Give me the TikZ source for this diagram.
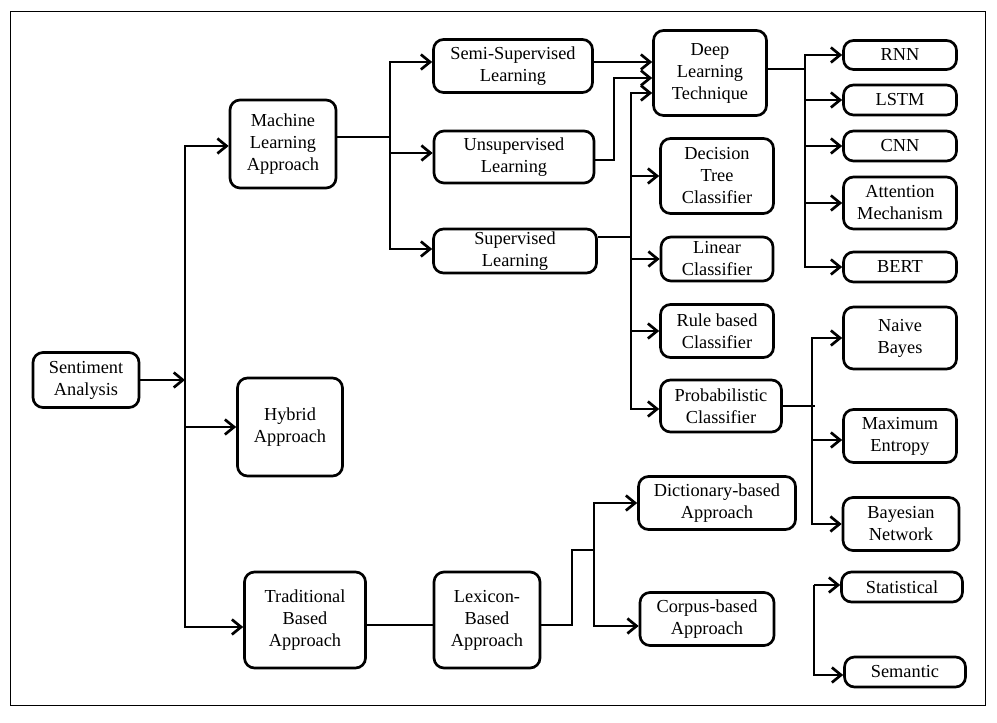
\documentclass[tikz,border=0pt]{standalone}
\usepackage{fontspec}
\setmainfont{Liberation Serif}
\usepackage{tikz}
\usetikzlibrary{arrows.meta, positioning, calc}

\begin{document}
\begin{tikzpicture}[x=0.6pt, y=-0.6pt,
        blk/.style={draw, rounded corners=6pt, line width=1.6pt, align=center, inner sep=1pt,
            font=\fontsize{11}{13.2}\selectfont},
        sz/.style 2 args={minimum width=#1*0.6pt, minimum height=#2*0.6pt},
        ln/.style={line width=1.7pt},
        arr/.style={line width=1.7pt, -{Straight Barb[length=5.5pt, width=9pt, line width=1.6pt]}}
    ]
        \useasboundingbox (0,0) rectangle (997,723);
        \draw[line width=0.6pt] (10,12) rectangle (985,705);

        % Nodes
        \node[blk, sz={106}{55}] (sa) at (86,380) {Sentiment\\Analysis};

        \node[blk, sz={106}{88}] (ml) at (283,144) {Machine\\Learning\\Approach};
        \node[blk, sz={105}{98}] (hy) at (290,427) {Hybrid\\Approach};
        \node[blk, sz={121}{96}] (tb) at (305,620) {Traditional\\Based\\Approach};

        \node[blk, sz={159}{53}] (semi) at (513,66) {Semi-Supervised\\Learning};
        \node[blk, sz={160}{52}] (unsup) at (514,157) {Unsupervised\\Learning};
        \node[blk, sz={163}{44}] (sup) at (515,251) {Supervised\\Learning};

        \node[blk, sz={113}{85}] (dl) at (710,73) {Deep\\Learning\\Technique};
        \node[blk, sz={113}{75}] (dt) at (717,176) {Decision\\Tree\\Classifier};
        \node[blk, sz={112}{44}] (lc) at (717,259) {Linear\\Classifier};
        \node[blk, sz={113}{53}] (rb) at (717,331) {Rule based\\Classifier};
        \node[blk, sz={121}{52}] (pc) at (721,406) {Probabilistic\\Classifier};

        \node[blk, sz={113}{29}] (rnn) at (900,55) {RNN};
        \node[blk, sz={113}{30}] (lstm) at (900,100) {LSTM};
        \node[blk, sz={113}{30}] (cnn) at (900,146) {CNN};
        \node[blk, sz={113}{52}] (att) at (900,203) {Attention\\Mechanism};
        \node[blk, sz={113}{30}] (bert) at (900,267) {BERT};

        \node[blk, sz={113}{62}] (nb) at (900,338) {Naive\\Bayes};
        \node[blk, sz={113}{53}] (me) at (900,436) {Maximum\\Entropy};
        \node[blk, sz={116}{53}] (bn) at (901,524) {Bayesian\\Network};

        \node[blk, sz={121}{30}] (st) at (902,587) {Statistical};
        \node[blk, sz={121}{30}] (se) at (905,672) {Semantic};

        \node[blk, sz={106}{96}] (lx) at (487,620) {Lexicon-\\Based\\Approach};
        \node[blk, sz={157}{53}] (dic) at (717,503) {Dictionary-based\\Approach};
        \node[blk, sz={134}{53}] (cor) at (707,619) {Corpus-based\\Approach};

        % Junctions
        \coordinate (j0) at (185,380);
        \coordinate (j1) at (390,137);
        \coordinate (j2) at (614,78);
        \coordinate (j3) at (631,237);
        \coordinate (j4) at (805,69);
        \coordinate (j5) at (812,406);
        \coordinate (j6) at (814,585);
        \coordinate (k7) at (572,550);
        \coordinate (j7) at (594,550);

        % Connectors
        \draw[arr] (sa) -- (j0);
        \draw[arr] (j0) |- ($(ml.west)+(0,2)$);
        \draw[arr] (j0 |- hy) -- (hy);
        \draw[arr] (j0) |- ($(tb.west)+(0,7)$);

        \draw[ln] (ml.east |- j1) -- (j1);
        \draw[arr] (j1) |- ($(semi.west)+(0,-4)$);
        \draw[arr] (j1) |- ($(unsup.west)+(0,-4)$);
        \draw[arr] (j1) |- ($(sup.west)+(0,-2)$);

        \draw[arr] ($(semi.east)+(0,-4)$) coordinate (s1) -- (s1 -| dl.west);
        \draw[arr] ($(unsup.east)+(0,3)$) -| (j2) -- (j2 -| dl.west);

        \draw[ln] (sup.east |- j3) -- (j3);
        \draw[arr] (j3) |- ($(dl.west)+(0,20)$);
        \draw[arr] (j3 |- dt) -- (dt);
        \draw[arr] (j3 |- lc) -- (lc);
        \draw[arr] (j3 |- rb) -- (rb);
        \draw[arr] (j3) |- ($(pc.west)+(0,3)$);

        \draw[ln] (dl.east |- j4) -- (j4);
        \draw[arr] (j4) |- (rnn);
        \draw[arr] (j4 |- lstm) -- (lstm);
        \draw[arr] (j4 |- cnn) -- (cnn);
        \draw[arr] (j4 |- att) -- (att);
        \draw[arr] (j4) |- (bert);

        \draw[ln] (pc.east) -- ($(j5)+(3,0)$);
        \draw[arr] (j5) |- (nb);
        \draw[arr] (j5) |- ($(me.west)+(0,4)$);
        \draw[arr] (j5) |- (bn);

        \draw[arr] (j6) -- (j6 -| st.west);
        \draw[arr] (j6) |- ($(se.west)+(0,3)$);

        \draw[ln] ($(tb.east)+(0,5)$) -- ($(lx.west)+(0,5)$);
        \draw[ln] ($(lx.east)+(0,5)$) -| (k7) -- (j7);
        \draw[arr] (j7) |- (dic);
        \draw[arr] (j7) |- ($(cor.west)+(0,7)$);

    \end{tikzpicture}
\end{document}
